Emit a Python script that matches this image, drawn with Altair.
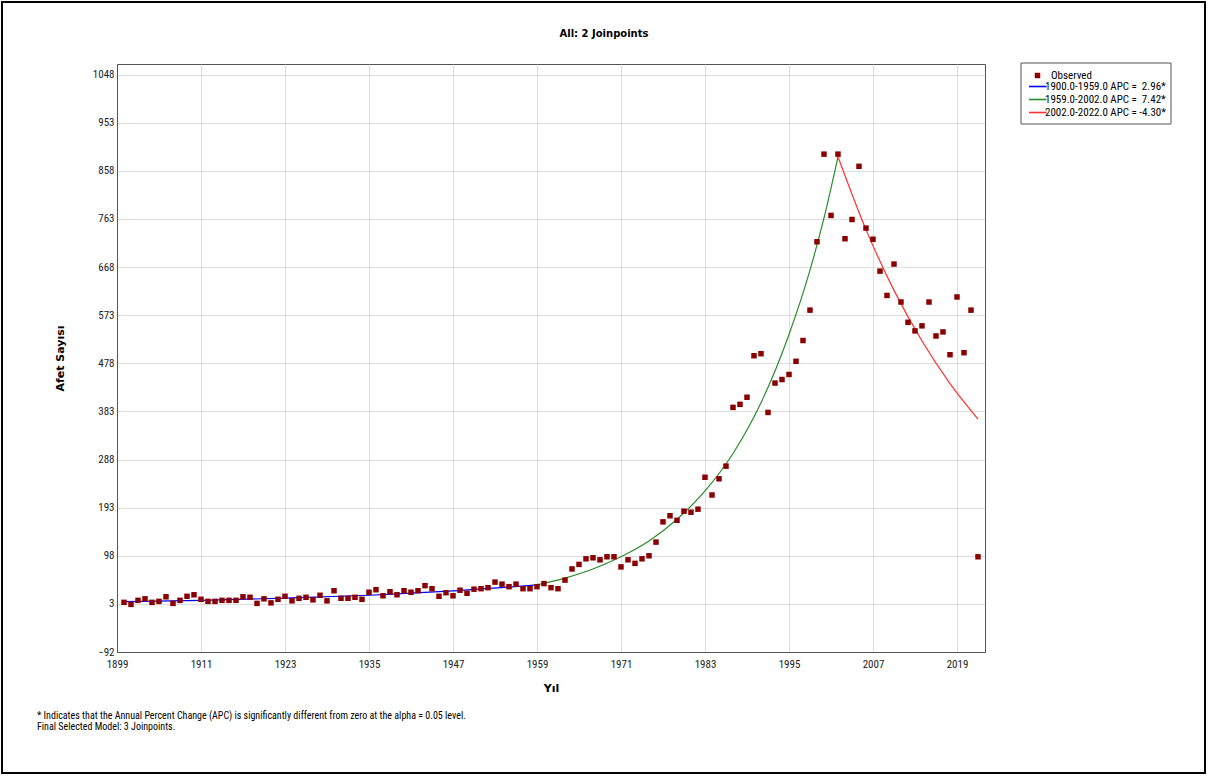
import altair as alt
import pandas as pd

years = list(range(1900, 2023))
observed = [
    6, 2, 10, 13, 6, 8, 17, 4, 10, 18,
    21, 12, 8, 8, 10, 10, 10, 17, 16, 4,
    13, 5, 12, 18, 9, 14, 16, 11, 20, 9,
    29, 14, 14, 16, 12, 26, 31, 19, 27, 21,
    29, 26, 29, 39, 33, 18, 25, 19, 30, 24,
    32, 33, 35, 46, 42, 37, 42, 33, 33, 37,
    43, 35, 33, 50, 72, 81, 92, 94, 90, 96,
    96, 76, 90, 83, 92, 98, 125, 165, 177, 168,
    186, 184, 190, 253, 218, 250, 275, 391, 397, 411,
    493, 497, 381, 439, 446, 456, 482, 523, 583, 718,
    891, 770, 891, 724, 762, 867, 745, 723, 660, 612,
    674, 599, 559, 542, 552, 599, 532, 540, 495, 609,
    499, 583, 96,
]

obs_name = "Observed"
obs_color = "#8B0000"
fit_names = [
    "1900.0-1959.0 APC = \u00a02.96*",
    "1959.0-2002.0 APC = \u00a07.42*",
    "2002.0-2022.0 APC = -4.30*",
]
fit_colors = ["#0000FF", "#2E8B2E", "#FF3030"]

fit1_years = [1900, 1911, 1923, 1935, 1947, 1959]
fit1_values = [7.3, 10.0, 14.2, 20.1, 28.5, 40.5]
fit2_years = [1959, 1963, 1967, 1971, 1975, 1979, 1983, 1987, 1991, 1995, 1998, 2000, 2002]
fit2_values = [40.5, 54, 72, 96, 127, 170, 226, 300, 400, 535, 662, 765, 886]
fit3_years = [2002, 2006, 2010, 2014, 2018, 2022]
fit3_values = [886, 742, 622, 522, 438, 368]

x_ticks = [1899, 1911, 1923, 1935, 1947, 1959, 1971, 1983, 1995, 2007, 2019]
y_ticks = [-92, 3, 98, 193, 288, 383, 478, 573, 668, 763, 858, 953, 1048]

title_text = "All: 2 Joinpoints"
footnote = [
    "* Indicates that the Annual Percent Change (APC) is significantly different from zero at the alpha = 0.05 level.",
    "Final Selected Model: 3 Joinpoints.",
]

obs_df = pd.DataFrame({"year": years, "value": observed, "series": obs_name})
fit_df = pd.concat([
    pd.DataFrame({"year": fit1_years, "value": fit1_values, "series": fit_names[0]}),
    pd.DataFrame({"year": fit2_years, "value": fit2_values, "series": fit_names[1]}),
    pd.DataFrame({"year": fit3_years, "value": fit3_values, "series": fit_names[2]}),
])

NARROW = "Liberation Sans Narrow, Arial Narrow, Roboto Condensed, Liberation Sans, Arial"
BOLD = "DejaVu Sans"

xscale = alt.Scale(domain=[1899, 2023], nice=False, zero=False)
yscale = alt.Scale(domain=[-92, 1069], nice=False, zero=False)

xaxis = alt.Axis(
    values=x_ticks, format="d", grid=True, ticks=False, labelPadding=6, labelFlush=False,
    labelFont=NARROW, labelFontSize=11, labelColor="#222",
    titleFont=BOLD, titleFontSize=11, titleFontWeight="bold", titleColor="#000",
    titleX=434, titleY=36, titleBaseline="middle", titleAlign="center",
    domainColor="#555",
)
yaxis = alt.Axis(
    values=y_ticks, format="d", grid=True, ticks=False, labelPadding=3, labelFlush=False,
    labelFont=NARROW, labelFontSize=11, labelColor="#222",
    titleFont=BOLD, titleFontSize=11, titleFontWeight="bold", titleColor="#000",
    titleX=-57, titleY=294, titleAngle=270, titleBaseline="middle", titleAlign="center",
    domainColor="#555",
)

obs_legend = alt.Legend(
    title=None, orient="none", legendX=915, legendY=6, padding=0,
    labelFont=NARROW, labelFontSize=11, labelColor="#000", labelOffset=8,
    symbolSize=30, symbolType="square", symbolFillColor=obs_color,
    symbolStrokeColor=obs_color, symbolStrokeWidth=0, symbolOpacity=1,
)
fit_legend = alt.Legend(
    title=None, orient="none", legendX=912, legendY=17, padding=0,
    labelFont=NARROW, labelFontSize=11, labelColor="#000", labelOffset=5,
    symbolSize=16, symbolType="M-2.75,0H6", symbolStrokeWidth=1.6,
    rowPadding=1,
)

lines = alt.Chart(fit_df).mark_line(strokeWidth=1.2, interpolate="monotone").encode(
    x=alt.X("year:Q", scale=xscale, axis=xaxis, title="Yıl"),
    y=alt.Y("value:Q", scale=yscale, axis=yaxis, title="Afet Sayısı"),
    color=alt.Color("series:N", scale=alt.Scale(domain=fit_names, range=fit_colors), legend=fit_legend),
)

points = alt.Chart(obs_df).mark_point(filled=True, size=30, opacity=1, color=obs_color).encode(
    x=alt.X("year:Q", scale=xscale, axis=xaxis, title="Yıl"),
    y=alt.Y("value:Q", scale=yscale, axis=yaxis, title="Afet Sayısı"),
    shape=alt.Shape("series:N", scale=alt.Scale(domain=[obs_name], range=["square"]), legend=obs_legend),
)

one = pd.DataFrame({"k": [0]})
frame = alt.Chart(one).mark_rect(fill="transparent", stroke="#000", strokeWidth=2).encode(
    x=alt.value(-115), x2=alt.value(1088), y=alt.value(-62), y2=alt.value(709)
)
legend_box = alt.Chart(one).mark_rect(fill="#fff", stroke="#555", strokeWidth=1).encode(
    x=alt.value(904), x2=alt.value(1054), y=alt.value(-1), y2=alt.value(60)
)
title = alt.Chart(one).mark_text(
    align="center", baseline="middle", font=BOLD, fontSize=10, fontWeight="bold", color="#000"
).encode(x=alt.value(487), y=alt.value(-30), text=alt.value(title_text))
note = alt.Chart(one).mark_text(
    align="left", baseline="middle", font=NARROW, fontSize=10, color="#000", lineHeight=11
).encode(x=alt.value(-80), y=alt.value(652), text=alt.value(footnote))

chart = alt.layer(frame, legend_box, lines, points, title, note).resolve_scale(
    color="independent", shape="independent"
).properties(
    width=868, height=588,
    padding={"left": 117, "top": 64, "right": 223, "bottom": 124},
    autosize=alt.AutoSizeParams(type="none"),
    background="#ffffff",
).configure_view(stroke="#555", strokeWidth=1).configure_axis(
    gridColor="#bcbcbc", gridDash=[1, 1], gridWidth=1
)

chart.save("out.html", embed_options={"renderer": "svg", "actions": False})
